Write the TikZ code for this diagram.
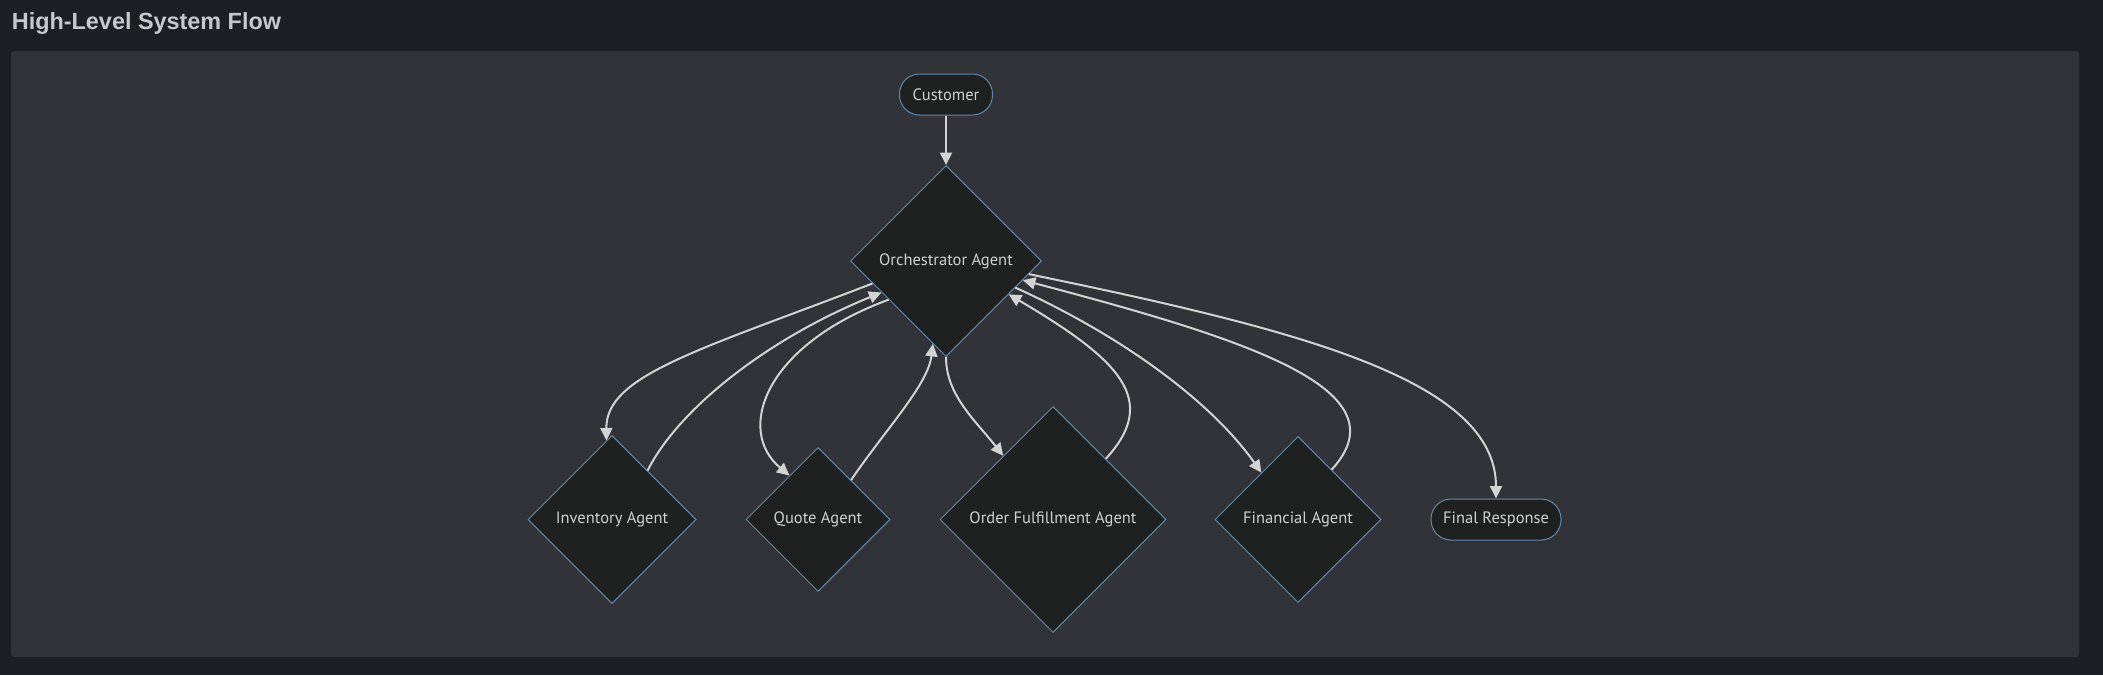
\documentclass[tikz,border=0pt]{standalone}
\usepackage{fontspec}
\setmainfont{PT Sans}
\newfontfamily\titlefont{Liberation Sans}
\usetikzlibrary{shapes.geometric,arrows.meta}
\definecolor{outerbg}{HTML}{1E1F23}
\definecolor{panelbg}{HTML}{323338}
\definecolor{nodefill}{HTML}{1F2020}
\definecolor{nodeborder}{HTML}{6189B0}
\definecolor{edgecol}{HTML}{D3D3D3}
\definecolor{txtcol}{HTML}{D0D0D0}
\definecolor{titlecol}{HTML}{C5C8CF}
\tikzset{
  diam/.style={shape=diamond, draw=nodeborder, fill=nodefill, line width=1pt,
    inner sep=0pt, aspect=1, text=txtcol, font=\fontsize{16.5}{19}\selectfont,
    minimum width=#1, minimum height=#1},
  stadium/.style={shape=rectangle, draw=nodeborder, fill=nodefill, line width=1pt,
    rounded corners=20pt, inner sep=0pt, text=txtcol, font=\fontsize{16.5}{19}\selectfont,
    minimum width=#1, minimum height=41pt},
  conn/.style={draw=edgecol, line width=2pt, -{Triangle[length=12.5pt,width=12pt]}}
}
\begin{document}
\begin{tikzpicture}[x=1pt,y=-1pt]
\fill[outerbg] (0,0) rectangle (2103,675);
\useasboundingbox (0,0) rectangle (2103,675);
\fill[panelbg, rounded corners=3pt] (11,51) rectangle (2079,657);
\node[anchor=base west, inner sep=0pt, text=titlecol,
  font=\titlefont\bfseries\fontsize{23.4}{28}\selectfont] (title) at (11.7,29.3) {High-Level System Flow};

\node[stadium=93pt] (cust) at (946,94.5) {Customer};
\node[diam=191pt] (orch) at (946,261) {Orchestrator Agent};
\node[diam=168pt] (inv) at (612,519.5) {Inventory Agent};
\node[diam=144pt] (quote) at (818,519.5) {Quote Agent};
\node[diam=226pt] (order) at (1053,519.5) {Order Fulfillment Agent};
\node[diam=166pt] (fin) at (1298,519.5) {Financial Agent};
\node[stadium=130pt] (final) at (1496,519.5) {Final Response};

\draw[conn] (cust.south) -- (orch.north);
\draw[conn] (orch.197.5) .. controls (700,350) and (605.7,375) .. (inv.94.6);
\draw[conn] (inv.54.5) .. controls (678,410) and (765,340) .. (orch.206.6);
\draw[conn] (orch.214.4) .. controls (765,345) and (735,430) .. (quote.123.4);
\draw[conn] (quote.50.5) .. controls (885,430) and (928,385) .. (orch.261.2);
\draw[conn] (orch.south) .. controls (946,395) and (975,420) .. (order.128.9);
\draw[conn] (order.49.55) .. controls (1160,400) and (1120,360) .. (orch.332.4);
\draw[conn] (orch.339.9) .. controls (1120,335) and (1210,400) .. (fin.128.7);
\draw[conn] (fin.56) .. controls (1405,390) and (1250,340) .. (orch.346);
\draw[conn] (orch.351) .. controls (1300,330) and (1496,380) .. (final.north);
\end{tikzpicture}
\end{document}
